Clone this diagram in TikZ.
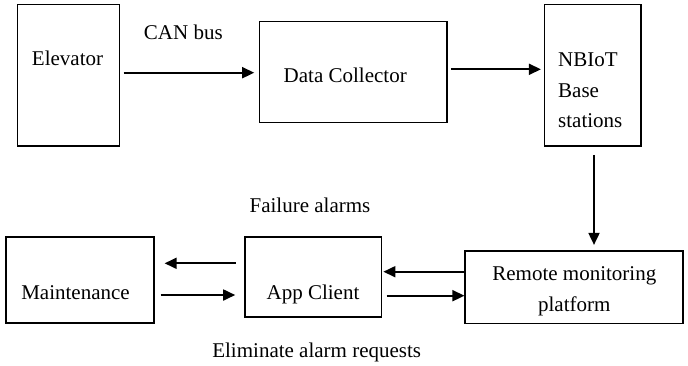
\documentclass[tikz,border=0pt]{standalone}
\usepackage{fontspec}
\setmainfont{Liberation Serif}
\usetikzlibrary{arrows.meta,positioning}

\begin{document}
\begin{tikzpicture}[
  x=1pt, y=-1pt,
  blockbox/.style={draw=black, line width=1.7pt, inner sep=0pt},
  labeltext/.style={inner sep=0pt, anchor=base, font=\fontsize{21}{30.5}\selectfont},
  flowarrow/.style={-{Triangle[length=12pt,width=11pt]}, line width=1.8pt}
]
\useasboundingbox (0,0) rectangle (688,365);
\node[blockbox, minimum width=102pt, minimum height=141.5pt] (elev) at (68.5,75.3) {};
\node[blockbox, minimum width=187.5pt, minimum height=101pt] (dc) at (353.3,72) {};
\node[blockbox, minimum width=96.5pt, minimum height=141.5pt] (nb) at (592.8,75.3) {};
\node[blockbox, minimum width=218pt, minimum height=72.3pt] (remote) at (574.3,287.2) {};
\node[blockbox, minimum width=136.5pt, minimum height=80.6pt] (app) at (313.3,277) {};
\node[blockbox, minimum width=148pt, minimum height=86pt] (maint) at (79.8,280.3) {};
\node[labeltext] (elevtxt) at (67.5,65) {Elevator};
\node[labeltext] (cantxt) at (183.3,39) {CAN bus};
\node[labeltext] (dctxt) at (345.2,82.7) {Data Collector};
\node[labeltext, anchor=base west, align=left] (nbtxt) at (558,127.7) {NBIoT\\Base\\stations};
\node[labeltext] (failtxt) at (310,212) {Failure alarms};
\node[labeltext] (mainttxt) at (75.5,299) {Maintenance};
\node[labeltext] (apptxt) at (313,299) {App Client};
\node[labeltext, align=center] (remotetxt) at (574.3,311) {Remote monitoring\\platform};
\node[labeltext] (elimtxt) at (316.7,357.7) {Eliminate alarm requests};
% uplink
\draw[flowarrow, shorten <=3.2pt, shorten >=4.5pt] (elev.east |- 0,72.7) -- (dc.west |- 0,72.7);
\draw[flowarrow, shorten <=3pt, shorten >=2.8pt] (dc.east |- 0,69.3) -- (nb.west |- 0,69.3);
\draw[flowarrow, shorten <=8pt, shorten >=5.3pt] (nb.south -| 594,0) -- (remote.north -| 594,0);
% platform <-> app <-> maintenance
\draw[flowarrow, shorten >=1pt] (remote.west |- 0,271.7) -- (app.east |- 0,271.7);
\draw[flowarrow, shorten <=4.3pt] (app.east |- 0,295.7) -- (remote.west |- 0,295.7);
\draw[flowarrow, shorten <=8.3pt, shorten >=10pt] (app.west |- 0,263.3) -- (maint.east |- 0,263.3);
\draw[flowarrow, shorten <=6pt, shorten >=9pt] (maint.east |- 0,295) -- (app.west |- 0,295);
\end{tikzpicture}
\end{document}
